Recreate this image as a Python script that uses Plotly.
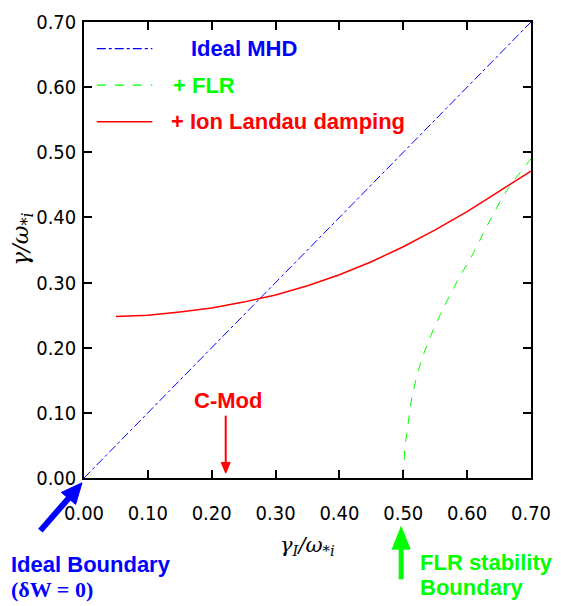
import plotly.graph_objects as go

# Growth rate vs. diamagnetic-normalised drive, three physics models
ideal_x = [0.0, 0.70]
ideal_y = [0.0, 0.70]

flr_x = [0.500, 0.5025, 0.5073, 0.514, 0.527, 0.542, 0.558, 0.584, 0.610, 0.636, 0.662, 0.700]
flr_y = [0.000, 0.045, 0.0815, 0.126, 0.176, 0.216, 0.251, 0.301, 0.346, 0.396, 0.441, 0.490]

landau_x = [0.05, 0.10, 0.15, 0.20, 0.25, 0.30, 0.35, 0.40, 0.45, 0.50, 0.55, 0.60, 0.65, 0.70]
landau_y = [0.248, 0.250, 0.255, 0.261, 0.270, 0.281, 0.295, 0.312, 0.332, 0.355, 0.381, 0.409, 0.440, 0.471]

tick_vals = [0.0, 0.1, 0.2, 0.3, 0.4, 0.5, 0.6, 0.7]
tick_text = ["0.00", "0.10", "0.20", "0.30", "0.40", "0.50", "0.60", "0.70"]

BLUE = "#0000ff"
GREEN = "#00ff00"
RED = "#ff0000"
BOLD = "Liberation Sans, Arial, sans-serif"
TICKFONT = dict(family="Liberation Sans Narrow, DejaVu Sans Condensed, Arial Narrow, sans-serif",
                size=20, color="black")

W, H = 561, 606
L, R, T, B = 84, 26, 10, 128
pw, ph = W - L - R, H - T - B


def px(xp):
    return (xp - L) / pw


def py(yp):
    return (H - B - yp) / ph


fig = go.Figure()
fig.add_trace(go.Scatter(x=ideal_x, y=ideal_y, mode="lines",
                         line=dict(color=BLUE, width=1, dash="dashdot"), showlegend=False))
fig.add_trace(go.Scatter(x=flr_x, y=flr_y, mode="lines", line_shape="spline",
                         line=dict(color=GREEN, width=1, dash="dash"), showlegend=False))
fig.add_trace(go.Scatter(x=landau_x, y=landau_y, mode="lines",
                         line=dict(color=RED, width=1.5), showlegend=False))

# Key in the upper-left corner
key = [
    (0.659, BLUE, "dashdot", 1.2, "Ideal MHD", 0.165),
    (0.603, GREEN, "dash", 1.2, "+ FLR", 0.137),
    (0.547, RED, "solid", 1.5, "+ Ion Landau damping", 0.133),
]
annotations = []
shapes = []
for ky, col, dash, w, label, tx in key:
    shapes.append(dict(type="line", xref="x", yref="y", x0=0.020, x1=0.107, y0=ky, y1=ky,
                       line=dict(color=col, width=w, dash=dash)))
    annotations.append(dict(x=tx, y=ky, xref="x", yref="y", text="<b>%s</b>" % label,
                            showarrow=False, xanchor="left", yanchor="middle",
                            font=dict(family=BOLD, size=22, color=col)))


def arrow(tail, tip, head_len, head_w, shaft_w, color):
    """Shaft + filled triangular head, given in pixel coordinates."""
    (x0, y0), (x1, y1) = tail, tip
    dx, dy = x1 - x0, y1 - y0
    n = (dx * dx + dy * dy) ** 0.5
    ux, uy = dx / n, dy / n
    nx, ny = -uy, ux
    bx, by = x1 - head_len * ux, y1 - head_len * uy
    c1 = (bx + head_w / 2 * nx, by + head_w / 2 * ny)
    c2 = (bx - head_w / 2 * nx, by - head_w / 2 * ny)
    shapes.append(dict(type="line", xref="paper", yref="paper",
                       x0=px(x0), y0=py(y0), x1=px(bx + ux), y1=py(by + uy),
                       line=dict(color=color, width=shaft_w)))
    path = "M %f %f L %f %f L %f %f Z" % (px(x1), py(y1), px(c1[0]), py(c1[1]),
                                          px(c2[0]), py(c2[1]))
    shapes.append(dict(type="path", xref="paper", yref="paper", path=path,
                       fillcolor=color, line=dict(color=color, width=1)))


# C-Mod operating point, ideal boundary and FLR boundary markers
arrow((227, 414), (227, 473), 11, 9, 2, RED)
arrow((40, 532), (82, 483), 21, 19, 6, BLUE)
arrow((404, 582), (404, 528), 23, 18, 5, GREEN)

annotations += [
    dict(x=px(229), y=py(398), xref="paper", yref="paper", text="<b>C-Mod</b>",
         showarrow=False, xanchor="center", yanchor="middle",
         font=dict(family=BOLD, size=22, color=RED)),
    dict(x=px(8), y=py(567), xref="paper", yref="paper", text="<b>Ideal Boundary</b>",
         showarrow=False, xanchor="left", yanchor="middle",
         font=dict(family=BOLD, size=22, color=BLUE)),
    dict(x=px(8), y=py(592), xref="paper", yref="paper", text="<b>(δW = 0)</b>",
         showarrow=False, xanchor="left", yanchor="middle",
         font=dict(family="Liberation Serif, Times New Roman, serif", size=22, color=BLUE)),
    dict(x=px(421), y=py(565), xref="paper", yref="paper", text="<b>FLR stability</b>",
         showarrow=False, xanchor="left", yanchor="middle",
         font=dict(family=BOLD, size=22, color=GREEN)),
    dict(x=px(421), y=py(590), xref="paper", yref="paper", text="<b>Boundary</b>",
         showarrow=False, xanchor="left", yanchor="middle",
         font=dict(family=BOLD, size=22, color=GREEN)),
    dict(x=px(310), y=py(548), xref="paper", yref="paper",
         text="<i>γ<sub>I</sub>/ω<sub>*i</sub></i>",
         showarrow=False, xanchor="center", yanchor="middle",
         font=dict(family="DejaVu Serif, serif", size=21, color="black")),
    dict(x=px(22), y=py(233), xref="paper", yref="paper",
         text="<i>γ/ω<sub>*i</sub></i>", textangle=-90,
         showarrow=False, xanchor="center", yanchor="middle",
         font=dict(family="DejaVu Serif, serif", size=23, color="black")),
]

axis_common = dict(range=[0, 0.70], tickvals=tick_vals, ticktext=tick_text, ticks="inside",
                   ticklen=8, tickwidth=1.5, tickcolor="black", showline=True,
                   linecolor="black", linewidth=1.5, mirror="ticks", showgrid=False,
                   zeroline=False, tickfont=TICKFONT)

fig.update_layout(
    width=W, height=H,
    margin=dict(l=L, r=R, t=T, b=B),
    plot_bgcolor="white", paper_bgcolor="white",
    xaxis=dict(**axis_common, ticklabelstandoff=16),
    yaxis=dict(**axis_common, ticklabelstandoff=2),
    shapes=shapes,
    annotations=annotations,
    showlegend=False,
)

fig.write_html("out.html")
